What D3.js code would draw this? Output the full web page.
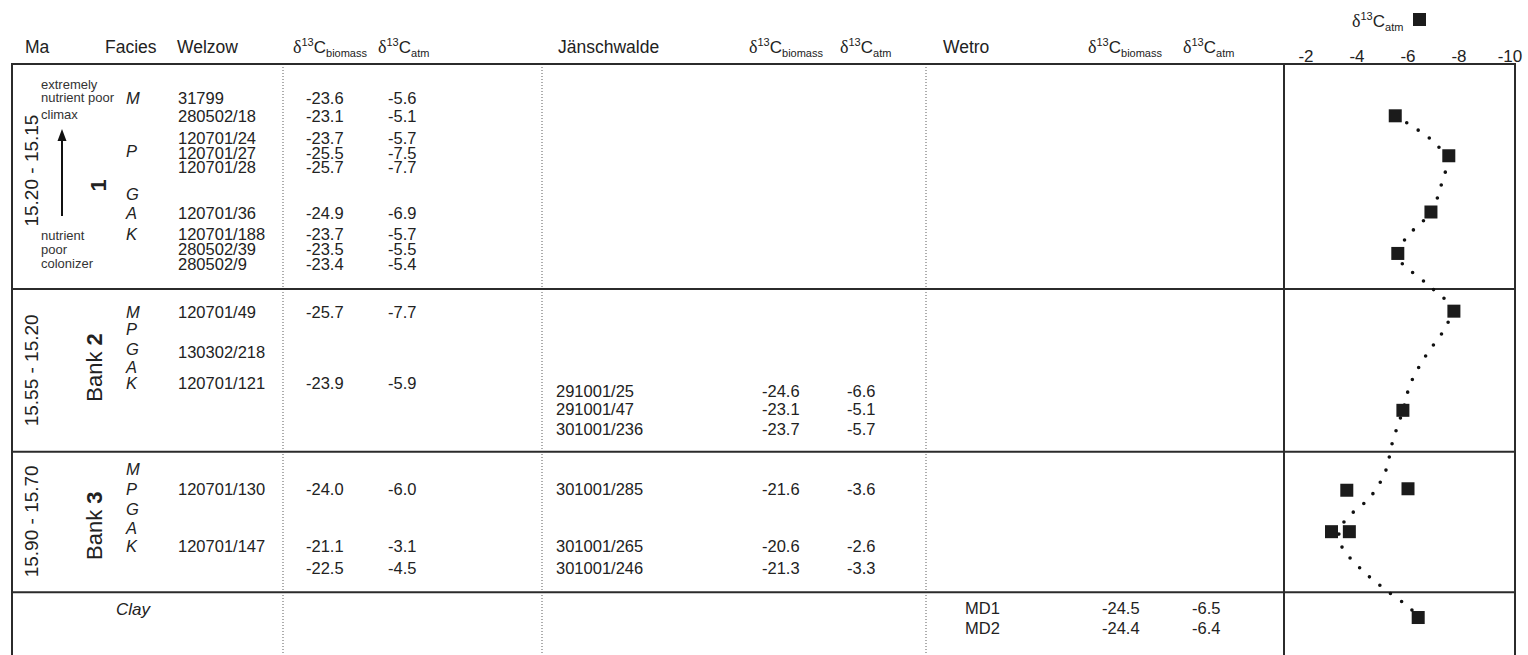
<!DOCTYPE html>
<html>
<head>
<meta charset="utf-8">
<script src="https://cdnjs.cloudflare.com/ajax/libs/d3/7.8.5/d3.min.js"></script>
<style>
  body { margin: 0; background: #fff; }
  svg text { font-family: "Liberation Sans", Arial, sans-serif; fill: #222; }
</style>
</head>
<body>
<div id="chart"></div>
<script>
// ---------- data (vertical positions are in table "lines" from the top rule) ----------
var bankNums = ["1", "2", "3"];
var bankPrefix = ["", "Bank ", "Bank "];
var bankAges = ["15.20 - 15.15", "15.55 - 15.20", "15.90 - 15.70"];
var bankLine = [8.2, 20.5, 31.2];
var ageLine = [7.2, 20.7, 30.9];
var blockEdges = [0, 15.2, 26.2, 35.7];

var faciesLetters = ["M", "P", "G", "A", "K"];
var faciesLines = [
  [2.3, 5.9, 8.8, 10.1, 11.5],
  [16.8, 17.9, 19.3, 20.5, 21.6],
  [27.4, 28.7, 30.1, 31.4, 32.6]
];

var welzowIds = ["31799", "280502/18", "120701/24", "120701/27", "120701/28", "120701/36",
  "120701/188", "280502/39", "280502/9", "120701/49", "130302/218", "120701/121",
  "120701/130", "120701/147", ""];
var welzowBio = [-23.6, -23.1, -23.7, -25.5, -25.7, -24.9, -23.7, -23.5, -23.4, -25.7, null, -23.9, -24.0, -21.1, -22.5];
var welzowAtm = [-5.6, -5.1, -5.7, -7.5, -7.7, -6.9, -5.7, -5.5, -5.4, -7.7, null, -5.9, -6.0, -3.1, -4.5];
var welzowLine = [2.3, 3.5, 5.0, 6.0, 7.0, 10.1, 11.5, 12.5, 13.5, 16.8, 19.5, 21.6, 28.7, 32.6, 34.1];

var jaenIds = ["291001/25", "291001/47", "301001/236", "301001/285", "301001/265", "301001/246"];
var jaenBio = [-24.6, -23.1, -23.7, -21.6, -20.6, -21.3];
var jaenAtm = [-6.6, -5.1, -5.7, -3.6, -2.6, -3.3];
var jaenLine = [22.1, 23.3, 24.7, 28.7, 32.6, 34.1];

var wetroIds = ["MD1", "MD2"];
var wetroBio = [-24.5, -24.4];
var wetroAtm = [-6.5, -6.4];
var wetroLine = [36.8, 38.1];

// squares in the right panel
var pointAtm = [-5.5, -7.6, -6.9, -5.6, -7.8, -5.8, -3.6, -6.0, -3.0, -3.7, -6.4];
var pointLine = [3.5, 6.2, 10.0, 12.8, 16.7, 23.4, 28.8, 28.7, 31.6, 31.6, 37.4];

// dotted trend curve
var trendAtm = [-5.5, -7.1, -7.5, -7.3, -6.9, -5.9, -5.6, -6.7, -7.6, -7.7, -7.4, -6.7, -6.1, -5.8,
  -5.4, -5.1, -4.5, -3.6, -3.3, -3.4, -4.2, -5.1, -6.1, -6.4];
var trendLine = [3.5, 5.4, 6.6, 8.2, 10.0, 11.8, 13.0, 14.8, 16.2, 16.8, 18.0, 19.7, 21.6, 23.4,
  25.5, 27.6, 29.3, 30.7, 31.6, 32.6, 34.2, 35.5, 36.8, 37.4];

var xTicks = [-2, -4, -6, -8, -10];

// ---------- layout ----------
var W = 1528, H = 655;
var tableLeft = 12, panelLeft = 1284, panelRight = 1515, tableTop = 64;
var headerY = 53;

var svg = d3.select("#chart").append("svg")
    .attr("width", W)
    .attr("height", H);

var y = d3.scaleLinear().domain([0, 40]).range([tableTop, tableTop + 40 * 14.8]);
var x = d3.scaleLinear().domain([-2, -10]).range([1306, 1510]);

var fmt = function(v) { return v == null ? "" : v.toFixed(1); };

// delta label with superscript / subscript
function deltaLabel(g, px, py, sub) {
    var t = g.append("text").attr("x", px).attr("y", py).style("font-size", "17px");
    t.append("tspan").style("font-family", "'Liberation Serif', serif").style("font-size", "18px").text("δ");
    t.append("tspan").attr("dy", -7).style("font-size", "11px").text("13");
    t.append("tspan").attr("dy", 7).text("C");
    t.append("tspan").attr("dy", 4).style("font-size", "11px").text(sub);
    return t;
}

// header
var header = svg.append("g").attr("class", "header");
[["Ma", 25], ["Facies", 105], ["Welzow", 177], ["Jänschwalde", 558], ["Wetro", 943]].forEach(function(h) {
    header.append("text").attr("x", h[1]).attr("y", headerY).style("font-size", "17.5px").text(h[0]);
});
[[293, "biomass"], [378, "atm"], [749, "biomass"], [840, "atm"], [1088, "biomass"], [1183, "atm"]].forEach(function(h) {
    deltaLabel(header, h[0], headerY, h[1]);
});

// legend above the panel
deltaLabel(svg, 1352, 27, "atm");
svg.append("rect")
    .attr("x", 1413).attr("y", 13)
    .attr("width", 13).attr("height", 13)
    .attr("fill", "#1b1b1b");

// x tick labels
svg.append("g").selectAll("text")
    .data(xTicks)
    .enter().append("text")
    .attr("x", function(d) { return x(d); })
    .attr("y", 62)
    .attr("text-anchor", "middle")
    .style("font-size", "17px")
    .text(function(d) { return String(d); });

// dotted column separators
[283, 542, 926].forEach(function(cx) {
    svg.append("line")
        .attr("x1", cx).attr("x2", cx)
        .attr("y1", tableTop).attr("y2", H)
        .attr("stroke", "#777")
        .attr("stroke-width", 1.2)
        .attr("stroke-dasharray", "1,2");
});

// rules and borders
var rules = svg.append("g").attr("stroke", "#2b2b2b").attr("stroke-width", 2);
blockEdges.forEach(function(e) {
    rules.append("line")
        .attr("x1", tableLeft - 1).attr("x2", panelRight + 1)
        .attr("y1", y(e)).attr("y2", y(e));
});
[tableLeft, panelLeft, panelRight].forEach(function(bx) {
    rules.append("line")
        .attr("x1", bx).attr("x2", bx)
        .attr("y1", tableTop - 1).attr("y2", H);
});

// bank labels, ages, facies
var body = svg.append("g");
bankNums.forEach(function(n, i) {
    body.append("text")
        .attr("transform", "translate(31," + y(ageLine[i]) + ") rotate(-90)")
        .attr("text-anchor", "middle")
        .attr("dy", "0.35em")
        .style("font-size", "19px")
        .text(bankAges[i]);
    var bt = body.append("text")
        .attr("transform", "translate(" + (i === 0 ? 98 : 94) + "," + y(bankLine[i]) + ") rotate(-90)")
        .attr("text-anchor", "middle")
        .attr("dy", "0.35em")
        .style("font-size", "22px");
    bt.append("tspan").text(bankPrefix[i]);
    bt.append("tspan").style("font-weight", "bold").text(n);

    faciesLetters.forEach(function(f, j) {
        body.append("text")
            .attr("x", 126)
            .attr("y", y(faciesLines[i][j]))
            .attr("dy", "0.35em")
            .style("font-size", "16.5px")
            .style("font-style", "italic")
            .text(f);
    });
});
body.append("text")
    .attr("x", 116).attr("y", y(36.8)).attr("dy", "0.35em")
    .style("font-size", "17px").style("font-style", "italic")
    .text("Clay");

// nutrient annotation + arrow in bank 1
var notes = [["extremely", 1.35], ["nutrient poor", 2.25], ["climax", 3.4], ["nutrient", 11.6], ["poor", 12.5], ["colonizer", 13.45]];
notes.forEach(function(n) {
    body.append("text")
        .attr("x", 41).attr("y", y(n[1])).attr("dy", "0.35em")
        .style("font-size", "13px")
        .style("fill", "#333")
        .text(n[0]);
});
body.append("line")
    .attr("x1", 62).attr("x2", 62)
    .attr("y1", y(10.27)).attr("y2", y(5.0))
    .attr("stroke", "#111").attr("stroke-width", 2);
body.append("path")
    .attr("d", "M" + 57.5 + "," + y(5.2) + "L62," + y(4.39) + "L" + 66.5 + "," + y(5.2) + "Z")
    .attr("fill", "#111");

// table values
function drawSite(ids, bio, atm, lines, xId, xBio, xAtm) {
    var g = svg.append("g").style("font-size", "16.5px");
    ids.forEach(function(id, i) {
        var yy = y(lines[i]);
        g.append("text").attr("x", xId).attr("y", yy).attr("dy", "0.35em").text(id);
        g.append("text").attr("x", xBio).attr("y", yy).attr("dy", "0.35em").text(fmt(bio[i]));
        g.append("text").attr("x", xAtm).attr("y", yy).attr("dy", "0.35em").text(fmt(atm[i]));
    });
}
drawSite(welzowIds, welzowBio, welzowAtm, welzowLine, 178, 306, 388);
drawSite(jaenIds, jaenBio, jaenAtm, jaenLine, 556, 762, 847);
drawSite(wetroIds, wetroBio, wetroAtm, wetroLine, 965, 1102, 1192);

// trend curve (dotted)
var trend = trendAtm.map(function(v, i) { return {v: v, l: trendLine[i]}; });
var trendPath = d3.line()
    .x(function(d) { return x(d.v); })
    .y(function(d) { return y(d.l); })
    .curve(d3.curveCatmullRom);
svg.append("path")
    .datum(trend)
    .attr("d", trendPath)
    .attr("fill", "none")
    .attr("stroke", "#111")
    .attr("stroke-width", 3.6)
    .attr("stroke-linecap", "round")
    .attr("stroke-dasharray", "0,13.5");

// squares
var sq = 13;
svg.append("g").selectAll("rect")
    .data(pointAtm)
    .enter().append("rect")
    .attr("x", function(d) { return x(d) - sq / 2; })
    .attr("y", function(d, i) { return y(pointLine[i]) - sq / 2; })
    .attr("width", sq)
    .attr("height", sq)
    .attr("fill", "#1b1b1b");
</script>
</body>
</html>
